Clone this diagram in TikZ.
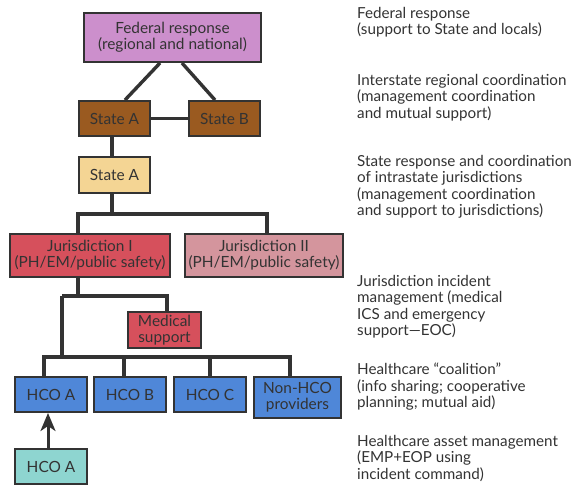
\documentclass[tikz,border=0pt]{standalone}
\usepackage{fontspec}
\setmainfont{Lato}
\usetikzlibrary{arrows.meta}
\definecolor{fedc}{HTML}{CC8FCC}
\definecolor{brownc}{HTML}{9A5A20}
\definecolor{tanc}{HTML}{F4D594}
\definecolor{juric}{HTML}{D6505C}
\definecolor{jurii}{HTML}{D4959D}
\definecolor{hcoc}{HTML}{4F87D8}
\definecolor{tealc}{HTML}{8ED5D0}
\definecolor{inkc}{HTML}{333333}
\begin{document}
\begin{tikzpicture}[x=1pt,y=-1pt,
  box/.style={draw=inkc,line width=2pt,align=center,inner sep=0pt,text=inkc,
    font=\fontsize{15.4}{16}\selectfont},
  conn/.style={draw=inkc,line width=3.4pt},
  side/.style={anchor=north west,align=left,inner sep=0pt,text=inkc,
    font=\fontsize{15.2}{16.5}\selectfont}]
\useasboundingbox[fill=white] (0,0) rectangle (581,496);

\node[box,fill=fedc,minimum width=177,minimum height=49] (fed) at (172.5,37.5) {Federal response\\(regional and national)};
\node[box,fill=brownc,minimum width=71,minimum height=35] (sa) at (114.5,118.5) {State A};
\node[box,fill=brownc,minimum width=71,minimum height=35] (sb) at (224.5,118.5) {State B};
\node[box,fill=tanc,minimum width=71,minimum height=36] (sa2) at (114.5,175) {State A};
\node[box,fill=juric,minimum width=160,minimum height=43] (j1) at (90,255.5) {Jurisdiction I\\(PH/EM/public safety)};
\node[box,fill=jurii,minimum width=158,minimum height=43] (j2) at (264,255.5) {Jurisdiction II\\(PH/EM/public safety)};
\node[box,fill=juric,minimum width=73,minimum height=36] (med) at (164.5,330) {Medical\\support};
\node[box,fill=hcoc,minimum width=72,minimum height=35] (ha) at (51,394.5) {HCO A};
\node[box,fill=hcoc,minimum width=72,minimum height=35] (hb) at (130,394.5) {HCO B};
\node[box,fill=hcoc,minimum width=72,minimum height=35] (hc) at (210,394.5) {HCO C};
\node[box,fill=hcoc,minimum width=87,minimum height=41] (nh) at (297.5,397.5) {Non-HCO\\providers};
\node[box,fill=tealc,minimum width=72,minimum height=35] (ha2) at (51,466.5) {HCO A};

\coordinate (b1) at (112,214);
\coordinate (b2) at (78,296);
\coordinate (b2l) at (62,296);
\coordinate (b3) at (62,357);

\draw[conn] ([xshift=-12.5]fed.south) -- ([xshift=10.5]sa.north);
\draw[conn] ([xshift=9.5]fed.south) -- ([xshift=-9.5]sb.north);
\draw[conn] (sa.east) -- (sb.west);
\draw[conn] ([xshift=-2.5]sa.south) -- ([xshift=-2.5]sa2.north);
\draw[conn] ([xshift=-2.5]sa2.south) -- (b1);
\draw[conn] ([xshift=-12]j1.north) |- (b1) -| ([xshift=3]j2.north);
\draw[conn] ([xshift=-12]j1.south) -- (b2);
\draw[conn] (b2l) -| ([xshift=2.5]med.north);
\draw[conn] (b2l) -- (b3);
\draw[conn] ([xshift=-7]ha.north) |- (b3) -| ([xshift=-7.5]nh.north);
\draw[conn] ([xshift=-6]hb.north) -- ([xshift=-6]hb.north |- b3);
\draw[conn] (hc.north) -- (hc.north |- b3);
\draw[conn,line width=3pt,-{Stealth[length=18pt,width=15pt,inset=5pt]}] ([xshift=-3]ha2.north) -- ([xshift=-3]ha.south);

\node[side] (t1) at (357,7) {Federal response\\(support to State and locals)};
\node[side] (t2) at (357,74) {Interstate regional coordination\\(management coordination\\and mutual support)};
\node[side] (t3) at (357,155) {State response and coordination\\of intrastate jurisdictions\\(management coordination\\and support to jurisdictions)};
\node[side] (t4) at (357,275) {Jurisdiction incident\\management (medical\\ICS and emergency\\support---EOC)};
\node[side] (t5) at (357,363) {Healthcare ``coalition''\\(info sharing; cooperative\\planning; mutual aid)};
\node[side] (t6) at (357,435) {Healthcare asset management\\(EMP+EOP using\\incident command)};
\end{tikzpicture}
\end{document}
